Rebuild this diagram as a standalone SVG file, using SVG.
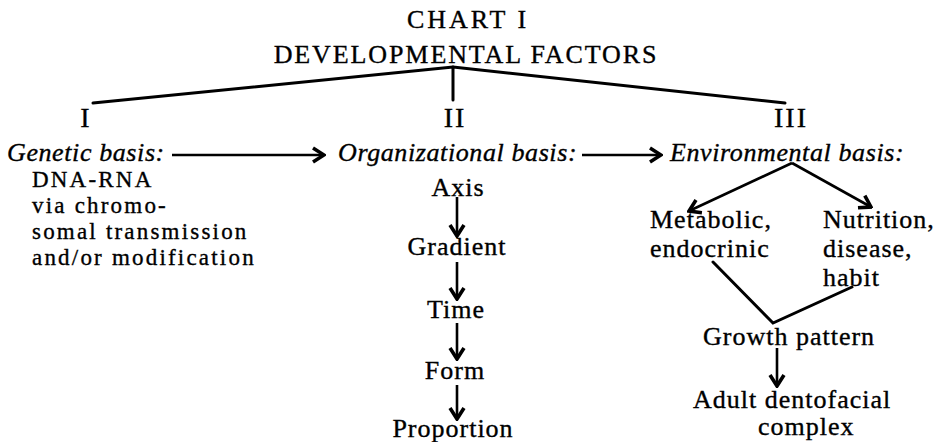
<svg xmlns="http://www.w3.org/2000/svg" width="941" height="442" viewBox="0 0 941 442">
<style>
text{font-family:"Liberation Serif","Times New Roman",serif;fill:#000;stroke:#000;stroke-width:0.35px}
.title{font-size:26px;letter-spacing:1.9px;text-anchor:middle}
.num{font-size:28px;letter-spacing:2px;text-anchor:middle}
.it{font-size:26px;font-style:italic;letter-spacing:0.6px}
.b{font-size:26px;letter-spacing:1px}
.g{font-size:23px;letter-spacing:2.2px}
.c{text-anchor:middle}
.ln{stroke:#000;stroke-width:3;fill:none;stroke-linecap:round}
.ar{stroke:#000;stroke-width:2.6;fill:none;stroke-linecap:butt}
</style>
<defs>
<marker id="ah" viewBox="-13 -9 15 18" markerWidth="15" markerHeight="18" refX="0" refY="0" orient="auto" markerUnits="userSpaceOnUse">
<path d="M-11,-7 L0,0 L-11,7" fill="none" stroke="#000" stroke-width="3.6" stroke-linejoin="miter"/>
</marker>
</defs>
<g id="title">
<text class="title" x="468" y="28" style="letter-spacing:3px">CHART I</text>
<text class="title" x="466" y="63">DEVELOPMENTAL FACTORS</text>
</g>
<g id="n-I"><text class="num" x="86" y="127">I</text></g>
<g id="n-II"><text class="num" x="455" y="127">II</text></g>
<g id="n-III"><text class="num" x="791" y="127">III</text></g>
<g id="genetic">
<text class="it" x="7" y="161">Genetic basis:</text>
<text class="g" x="32" y="187">DNA-RNA</text>
<text class="g" x="32" y="213">via chromo-</text>
<text class="g" x="32" y="239">somal transmission</text>
<text class="g" x="32" y="265">and/or modification</text>
</g>
<g id="organizational"><text class="it" x="338" y="161">Organizational basis:</text></g>
<g id="environmental"><text class="it" x="670" y="161">Environmental basis:</text></g>
<g id="axis"><text class="b c" x="458" y="196">Axis</text></g>
<g id="gradient"><text class="b c" x="457" y="255">Gradient</text></g>
<g id="time"><text class="b c" x="456" y="318">Time</text></g>
<g id="form"><text class="b c" x="455" y="379">Form</text></g>
<g id="proportion"><text class="b c" x="453" y="437">Proportion</text></g>
<g id="metabolic">
<text class="b" x="650" y="228">Metabolic,</text>
<text class="b" x="650" y="257">endocrinic</text>
</g>
<g id="nutrition">
<text class="b" x="823" y="228">Nutrition,</text>
<text class="b" x="823" y="257">disease,</text>
<text class="b" x="823" y="286">habit</text>
</g>
<g id="growth"><text class="b" x="703" y="345">Growth pattern</text></g>
<g id="adult">
<text class="b" x="693" y="408">Adult dentofacial</text>
<text class="b" x="758" y="435">complex</text>
</g>
<g id="connectors">
<path class="ln" d="M93,103 L453,67 L785,103"/>
<path class="ln" d="M453,67 L453,100" stroke-width="2"/>
<path class="ar" d="M172,155 L324,155" marker-end="url(#ah)"/>
<path class="ar" d="M582,155 L661,155" stroke-width="2.2" marker-end="url(#ah)"/>
<path class="ar" d="M457,197 L457,236" marker-end="url(#ah)"/>
<path class="ar" d="M457,262 L457,299" marker-end="url(#ah)"/>
<path class="ar" d="M457,323 L457,359" marker-end="url(#ah)"/>
<path class="ar" d="M457,385 L457,419" marker-end="url(#ah)"/>
<path class="ar" d="M792,163 L689,211" marker-end="url(#ah)"/>
<path class="ar" d="M792,163 L871,207" marker-end="url(#ah)"/>
<path class="ln" d="M713,262 L773,323 L852,287" stroke-width="2.6"/>
<path class="ar" d="M777,348 L777,386" marker-end="url(#ah)"/>
</g>
</svg>
